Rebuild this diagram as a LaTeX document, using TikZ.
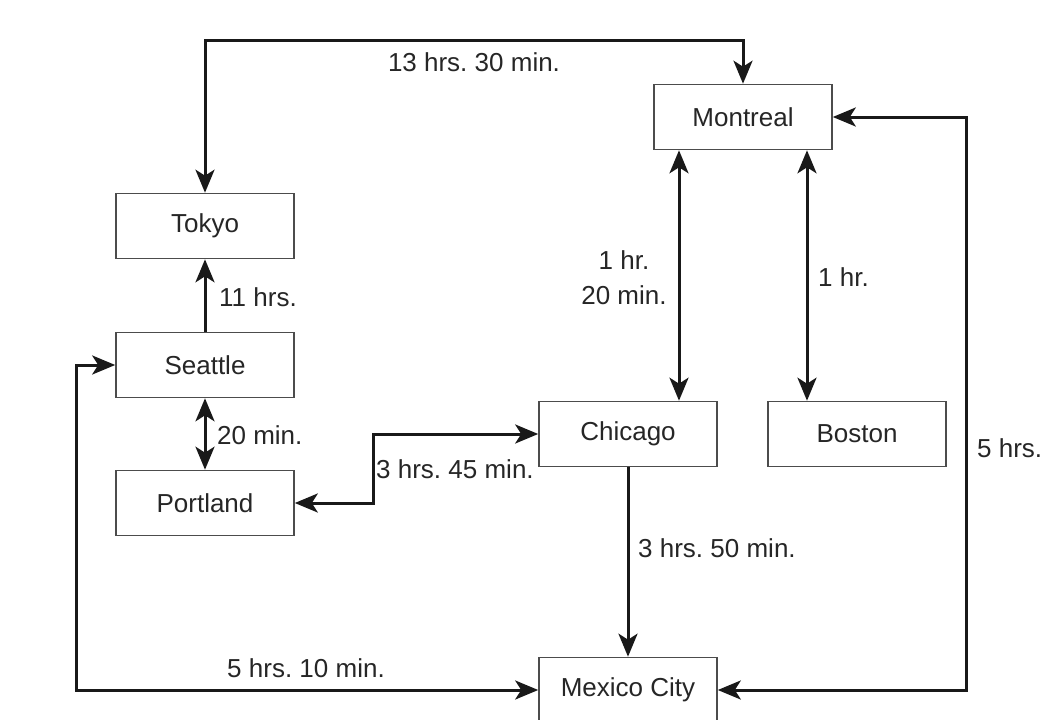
\documentclass[tikz,border=0pt]{standalone}
\usepackage{fontspec}
\setmainfont{Liberation Sans}
\frenchspacing
\usetikzlibrary{arrows.meta}
\begin{document}
\begin{tikzpicture}[x=1pt,y=-1pt,
  city/.style={draw=black!70, line width=1.6pt, fill=white, minimum width=178pt, minimum height=65pt, inner sep=0pt, font=\fontsize{26}{30}\selectfont, text=black!85},
  lbl/.style={font=\fontsize{26}{35}\selectfont, text=black!85, inner sep=0pt},
  tip/.style={Stealth[length=23pt,width=19pt,inset=6pt]},
  conn/.style={line width=3pt, draw=black!90},
  arr/.style={conn, -{Stealth[length=23pt,width=19pt,inset=6pt]}},
  both/.style={conn, {Stealth[length=23pt,width=19pt,inset=6pt]}-{Stealth[length=23pt,width=19pt,inset=6pt]}}]
\clip (0,0) rectangle (1060,720);
\fill[white] (0,0) rectangle (1060,720);
% nodes
\node[city] (montreal) at (743,117) {Montreal};
\node[city] (tokyo) at (205,226) {Tokyo};
\node[city] (seattle) at (205,365) {Seattle};
\node[city] (portland) at (205,503) {Portland};
\node[city] (chicago) at (628,434) {Chicago};
\node[city] (boston) at (857,434) {Boston};
\node[city] (mexico) at (628,690) {Mexico City};
% helper coordinates
\coordinate (ttop) at (474,40);
\coordinate (pcmid) at (373,468);
\coordinate (mc) at (679,0);
\coordinate (mb) at (807,0);
\coordinate (swc) at (76,690);
\coordinate (sec) at (966,690);
% connectors
\draw[both] (tokyo.north) |- (ttop) -| (montreal.north);
\draw[arr] (seattle.north) -- (tokyo.south);
\draw[both] (seattle.south) -- (portland.north);
\draw[both] (portland.east) -| (pcmid) |- (chicago.west);
\draw[both] (montreal.south -| mc) -- (chicago.north -| mc);
\draw[both] (montreal.south -| mb) -- (boston.north -| mb);
\draw[arr] (chicago.south) -- (mexico.north);
\draw[both] (seattle.west) -| (swc) -- (mexico.west);
\draw[both] (montreal.east) -| (sec) -- (mexico.east);
% labels
\node[lbl] (l1) at (474,62) {13 hrs. 30 min.};
\node[lbl, anchor=west] (l2) at (219,297) {11 hrs.};
\node[lbl, anchor=west] (l3) at (217,435) {20 min.};
\node[lbl, anchor=west] (l4) at (376,469) {3 hrs. 45 min.};
\node[lbl, align=center] (l5) at (624,278) {1 hr.\\20 min.};
\node[lbl, anchor=west] (l6) at (818,277) {1 hr.};
\node[lbl, anchor=west] (l7) at (977,448) {5 hrs.};
\node[lbl, anchor=west] (l8) at (638,548) {3 hrs. 50 min.};
\node[lbl] (l9) at (306,668) {5 hrs. 10 min.};
\end{tikzpicture}
\end{document}
